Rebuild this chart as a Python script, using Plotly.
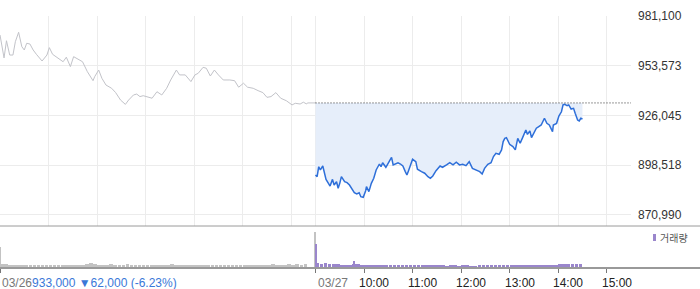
import plotly.graph_objects as go

# ---------------- data ----------------
prev_close = 933000

day1_times = ["09:00","09:05","09:08","09:12","09:16","09:19","09:23","09:27","09:30","09:33",
              "09:37","09:41","09:45","09:52","09:58","10:01","10:05","10:12","10:18","10:22",
              "10:27","10:31","10:37","10:42","10:48","10:55","10:57","11:02","11:06","11:11",
              "11:18","11:23","11:29","11:35","11:39","11:45","11:49","11:53","11:57","12:02",
              "12:08","12:14","12:20","12:26","12:31","12:38","12:42","12:49","12:56","13:01",
              "13:05","13:11","13:15","13:20","13:25","13:30","13:36","13:44","13:50","13:55",
              "14:01","14:06","14:13","14:19","14:25","14:30","14:35","14:41","14:47","14:54",
              "15:01","15:05","15:11","15:15","15:19","15:20","15:30"]
day1_prices = [970600,957900,967400,959500,959500,966900,972100,964100,962300,966000,
               965600,962300,959900,956200,959500,963600,959900,957700,955800,958300,
               953100,958600,957100,955800,950300,945300,947500,951200,946600,942900,
               941100,938700,934600,932200,934600,937400,937900,936500,937000,936500,
               935600,939200,937400,941100,945700,951200,948500,948500,944800,948500,
               949400,952700,952200,947900,951200,948500,945700,945700,945300,941700,
               943900,941700,941100,939800,938700,936100,936500,938700,935600,934200,
               931900,932800,932400,933400,932400,933000,933000]

day2_times = ["09:00","09:02","09:04","09:06","09:09","09:11","09:13","09:16","09:18","09:21",
              "09:23","09:26","09:28","09:30","09:32","09:36","09:39","09:42","09:45","09:48",
              "09:51","09:54","09:56","09:59","10:02","10:03","10:06","10:09","10:12","10:15",
              "10:19","10:21","10:23","10:27","10:31","10:34","10:36","10:39","10:42","10:45",
              "10:48","10:51","10:53","10:55","10:58","11:00","11:04","11:06","11:11","11:15",
              "11:19","11:22","11:25","11:29","11:34","11:37","11:42","11:46","11:50","11:54",
              "11:58","12:02","12:06","12:10","12:14","12:19","12:23","12:26","12:29","12:33",
              "12:37","12:40","12:43","12:47","12:50","12:52","12:54","12:56","13:00","13:04",
              "13:07","13:10","13:13","13:16","13:20","13:22","13:25","13:27","13:30","13:33",
              "13:36","13:39","13:43","13:46","13:49","13:53","13:54","13:58","14:01","14:04",
              "14:06","14:08","14:11","14:13","14:16","14:19","14:21","14:24","14:26","14:28",
              "14:30"]
day2_prices = [893100,892200,897700,895900,898100,894100,890700,888500,887000,890700,
               887600,889400,885800,888500,892200,889400,888900,887600,885200,883300,
               882600,883300,881100,880800,884400,886700,883900,888500,891300,895900,
               899200,897700,899900,897400,900500,902900,898700,899200,899900,899200,
               898100,895000,893100,895500,899600,901800,900500,896300,895000,894100,
               892200,891300,892600,895500,898100,897400,898700,899900,898700,900200,
               898700,899000,898300,900500,896800,895900,895000,893700,896800,899000,
               899900,903300,905100,904600,907000,911600,913400,913800,910100,908800,
               907000,913400,910700,913800,918000,915600,917500,913800,916200,919000,
               919900,920800,924500,921700,920800,917100,920800,921700,925900,928100,
               931900,932200,931500,931900,929600,930000,927300,923600,923000,924500,
               924100]

# 5-minute volume buckets (start times 09:00, 09:05, ...)
day1_vol = [300,250,200,150,150,200,150,100,150,200,
            200,150,100,100,150,150,100,200,200,100,
            150,300,400,250,150,150,200,250,200,200,
            150,250,150,200,150,150,100,200,150,100,
            150,100,250,200,150,150,100,200,150,100,
            150,150,100,150,150,150,100,150,150,100,
            150,100,150,100,150,150,100,250,150,150,
            200,250,200,250,200,250,0,0]
day2_vol = [400,330,350,250,250,250,200,200,150,250,
            250,200,150,150,200,200,150,150,200,150,
            150,100,100,150,150,100,100,150,100,100,
            100,100,80,100,100,80,100,100,80,50,
            100,100,100,100,120,120,120,130,120,120,
            100,120,120,120,130,130,130,130,120,130,
            300,300,300,300,250,300]
# single-minute volume spikes
day1_spike_times = ["09:00", "15:29"]
day1_spike_vol = [2000, 3600]
day2_spike_times = ["09:00", "09:47"]
day2_spike_vol = [2400, 600]

y_ticks = [870990, 898517.5, 926045, 953572.5, 981100]
y_tick_text = ["870,990", "898,518", "926,045", "953,573", "981,100"]
hour_labels = ["10:00", "11:00", "12:00", "13:00", "14:00", "15:00"]
date_labels = ["03/26", "03/27"]
summary_text = "933,000 \u25bc62,000 (-6.23%)"

# ---------------- helpers ----------------
SESSION = 390  # minutes per trading day (09:00-15:30)

def pos(day, t):
    h, m = map(int, t.split(":"))
    return day * SESSION + (h * 60 + m - 540)

W, H = 700, 289
ML, MR, MT, MB = 0, 69, 16, 21
plot_w = W - ML - MR
plot_h = H - MT - MB
vol_h = 42
split = vol_h / plot_h

GRAY_LINE = "#c2c3c9"
BLUE = "#2e6fd9"
FILL = "#e6eefa"
PURPLE = "#9a86cc"
VGRAY = "#c3c3c3"
FONT = "Liberation Sans, Arial, sans-serif"

fig = go.Figure()

# day 1 line
fig.add_trace(go.Scatter(x=[pos(0, t) for t in day1_times], y=day1_prices,
                         mode="lines", line=dict(color=GRAY_LINE, width=1),
                         xaxis="x", yaxis="y", hoverinfo="skip"))
# baseline for fill
d2x = [pos(1, t) for t in day2_times]
fig.add_trace(go.Scatter(x=d2x, y=[prev_close] * len(d2x), mode="lines",
                         line=dict(width=0, color=FILL), xaxis="x", yaxis="y",
                         hoverinfo="skip"))
# day 2 line
fig.add_trace(go.Scatter(x=d2x, y=day2_prices, mode="lines", fill="tonexty",
                         fillcolor=FILL, line=dict(color=BLUE, width=1.5),
                         xaxis="x", yaxis="y", hoverinfo="skip"))

# volume buckets
def bucket_x(day, n):
    return [day * SESSION + 5 * i + 2.5 for i in range(n)]

fig.add_trace(go.Bar(x=bucket_x(0, len(day1_vol)), y=day1_vol, width=4.5,
                     marker=dict(color=VGRAY, line=dict(width=0)),
                     xaxis="x2", yaxis="y2", hoverinfo="skip"))
fig.add_trace(go.Bar(x=bucket_x(1, len(day2_vol)), y=day2_vol, width=4.5,
                     marker=dict(color=PURPLE, line=dict(width=0)),
                     xaxis="x2", yaxis="y2", hoverinfo="skip"))
fig.add_trace(go.Bar(x=[pos(0, t) + 0.6 for t in day1_spike_times], y=day1_spike_vol,
                     width=1.2, marker=dict(color=VGRAY, line=dict(width=0)),
                     xaxis="x2", yaxis="y2", hoverinfo="skip"))
fig.add_trace(go.Bar(x=[pos(1, t) + 0.6 for t in day2_spike_times], y=day2_spike_vol,
                     width=1.2, marker=dict(color=PURPLE, line=dict(width=0)),
                     xaxis="x2", yaxis="y2", hoverinfo="skip"))

grid_vals = [h * 60 for h in range(7)] + [SESSION + h * 60 for h in range(7)]
tick_vals2 = [0, SESSION] + [pos(1, t) for t in hour_labels]

fig.update_layout(
    width=W, height=H, margin=dict(l=ML, r=MR, t=MT, b=MB),
    paper_bgcolor="white", plot_bgcolor="white", showlegend=False,
    barmode="overlay", bargap=0,
    font=dict(family=FONT, size=12, color="#333"),
    xaxis=dict(domain=[0, 1], range=[0, 2 * SESSION], anchor="y",
               tickvals=grid_vals, showticklabels=False, ticks="",
               showgrid=True, gridcolor="#ececec", gridwidth=1,
               zeroline=False, showline=False, fixedrange=True),
    yaxis=dict(domain=[split, 1], range=[864900, 981100], anchor="x",
               side="right", tickvals=y_ticks, ticktext=y_tick_text,
               showgrid=True, gridcolor="#ececec", gridwidth=1,
               zeroline=False, showline=False, ticks="",
               ticklabelstandoff=6,
               tickfont=dict(family=FONT, size=12, color="#333")),
    xaxis2=dict(domain=[0, 1], range=[0, 2 * SESSION], anchor="y2",
                tickvals=tick_vals2, showticklabels=False, ticks="outside",
                ticklen=4, tickcolor="#777", tickwidth=1,
                showgrid=False, zeroline=False, showline=False),
    yaxis2=dict(domain=[0, split], range=[-120, 4200], anchor="x2",
                visible=False),
)

# panel separator + bottom axis line (full width)
fig.add_shape(type="line", xref="paper", yref="paper", x0=0, x1=W / plot_w,
              y0=split, y1=split, line=dict(color="#9a9a9a", width=1))
fig.add_shape(type="line", xref="paper", yref="paper", x0=0, x1=W / plot_w,
              y0=0, y1=0, line=dict(color="#777", width=1.5))
# reference (previous close) dotted line
fig.add_shape(type="line", xref="x", yref="y", x0=SESSION, x1=2 * SESSION,
              y0=prev_close, y1=prev_close,
              line=dict(color="#333", width=1, dash="1px,2px"))

# legend for volume
fig.add_shape(type="rect", xref="paper", yref="paper",
              x0=653 / plot_w, x1=656 / plot_w,
              y0=(H - MB - 241) / plot_h, y1=(H - MB - 234) / plot_h,
              fillcolor=PURPLE, line=dict(width=0))
fig.add_annotation(xref="paper", yref="paper", x=658 / plot_w,
                   y=(H - MB - 237.5) / plot_h, text="거래량", showarrow=False,
                   xanchor="left", yanchor="middle",
                   font=dict(family="Noto Sans CJK KR", size=10, color="#555"))

label_y = -(282.7 - (H - MB)) / plot_h
# bottom date / summary labels
fig.add_annotation(xref="x2", yref="paper", x=0, y=label_y,
                   text=f"<span style='color:#777'>{date_labels[0]}</span>"
                        f"<span style='color:#3a78d8'>{summary_text}</span>",
                   showarrow=False, xanchor="left", yanchor="middle",
                   font=dict(family=FONT, size=12))
fig.add_annotation(xref="x2", yref="paper", x=SESSION, y=label_y,
                   text=date_labels[1], showarrow=False, xanchor="left",
                   yanchor="middle", font=dict(family=FONT, size=12, color="#777"))
for t in hour_labels:
    fig.add_annotation(xref="x2", yref="paper", x=pos(1, t), y=label_y,
                       text=t, showarrow=False, xanchor="center", xshift=10,
                       yanchor="middle", font=dict(family=FONT, size=12, color="#222"))

fig.write_html("out.html")
